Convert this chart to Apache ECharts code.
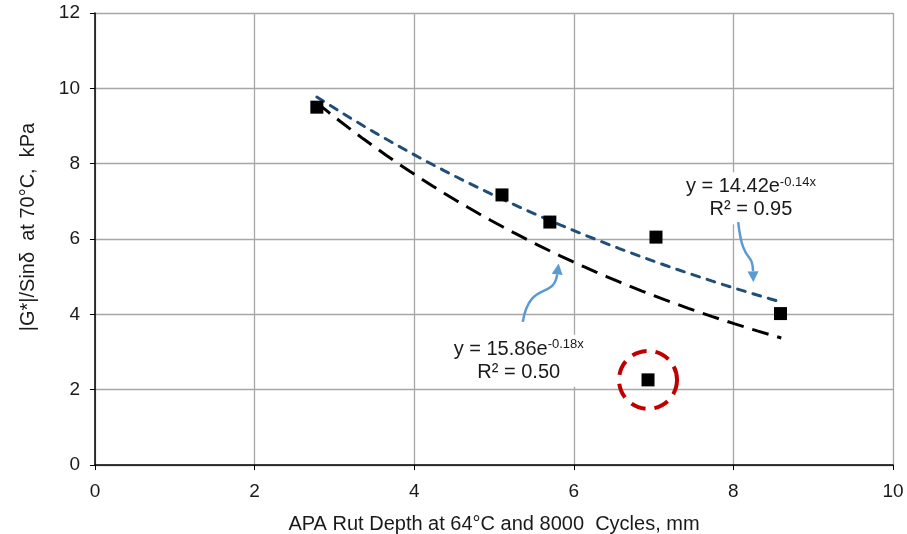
<!DOCTYPE html>
<html>
<head>
<meta charset="utf-8">
<script src="https://cdn.jsdelivr.net/npm/echarts@6/dist/echarts.min.js"></script>
<style>
  html, body { margin: 0; padding: 0; background: #fff; }
  #chart { width: 907px; height: 534px; }
</style>
</head>
<body>
<div id="chart"></div>
<script>
// Measured mixes: APA rut depth (mm) vs |G*|/sinδ at 70°C (kPa)
const rutDepth = [2.78, 5.10, 5.70, 7.03, 8.59, 6.93];
const stiffness = [9.50, 7.17, 6.45, 6.05, 4.02, 2.26];

// Exponential trend lines y = a·e^(b·x), fitted coefficients as printed
const trendNames = ['Excluding outlier', 'All mixes'];
const trendA = [14.42, 15.86];
const trendB = [-0.14, -0.18];
const trendR2 = ['0.95', '0.50'];
const trendRange = [2.78, 8.6];

// Highlighted outlier
const outlier = [6.93, 2.26];

// Axis ticks
const xTicks = [0, 2, 4, 6, 8, 10];
const yTicks = [0, 2, 4, 6, 8, 10, 12];

function trendCurve(i) {
  const pts = [];
  const n = 40;
  for (let k = 0; k <= n; k++) {
    const x = trendRange[0] + (trendRange[1] - trendRange[0]) * k / n;
    pts.push([x, trendA[i] * Math.exp(trendB[i] * x)]);
  }
  return pts;
}

const FONT = 'Liberation Sans, Arial, sans-serif';
const chart = echarts.init(document.getElementById('chart'), null, { renderer: 'canvas' });

const option = {
  animation: false,
  backgroundColor: '#ffffff',
  grid: { left: 95, right: 14, top: 13, bottom: 69, containLabel: false, outerBoundsMode: 'none' },
  xAxis: {
    type: 'value', min: xTicks[0], max: xTicks[xTicks.length - 1], interval: 2,
    name: 'APA Rut Depth at 64°C and 8000  Cycles, mm',
    nameLocation: 'middle', nameGap: 49,
    nameTextStyle: { fontFamily: FONT, fontSize: 20, color: '#1a1a1a' },
    axisLine: { lineStyle: { color: '#000', width: 1.5 } },
    axisTick: { show: true, inside: false, length: 5, lineStyle: { color: '#000' } },
    axisLabel: { fontFamily: FONT, fontSize: 19, color: '#1a1a1a', margin: 17 },
    splitLine: { show: true, lineStyle: { color: '#a6a6a6', width: 1.3 } }
  },
  yAxis: {
    type: 'value', min: yTicks[0], max: yTicks[yTicks.length - 1], interval: 2,
    name: '|G*|/Sinδ  at 70°C,  kPa',
    nameLocation: 'middle', nameGap: 57, nameRotate: 90,
    nameTextStyle: { fontFamily: FONT, fontSize: 20, color: '#1a1a1a', padding: [0, 0, 0, 24] },
    axisLine: { show: true, lineStyle: { color: '#000', width: 1.5 } },
    axisTick: { show: true, inside: false, length: 5, lineStyle: { color: '#000' } },
    axisLabel: { fontFamily: FONT, fontSize: 19, color: '#1a1a1a', margin: 15 },
    splitLine: { show: true, lineStyle: { color: '#a6a6a6', width: 1.3 } }
  },
  series: [
    {
      name: trendNames[0], type: 'line', data: trendCurve(0), showSymbol: false, z: 3,
      lineStyle: { color: '#1f4e79', width: 3, type: [8, 8], cap: 'round' }
    },
    {
      name: trendNames[1], type: 'line', data: trendCurve(1), showSymbol: false, z: 3,
      lineStyle: { color: '#000000', width: 3, type: [17, 9] }
    },
    {
      name: 'Mixes', type: 'scatter', z: 5,
      data: rutDepth.map((x, i) => [x, stiffness[i]]),
      symbol: 'rect', symbolSize: 13,
      itemStyle: { color: '#000000', opacity: 1 }
    },
    {
      name: 'Outlier', type: 'scatter', z: 4,
      data: [outlier],
      symbol: 'circle', symbolSize: 58,
      itemStyle: { color: 'rgba(0,0,0,0)', opacity: 1, borderColor: '#c00000', borderWidth: 4, borderType: [15, 9] }
    }
  ]
};
chart.setOption(option);

// Annotations: equation boxes and curved pointer arrows, anchored in data coordinates
function px(p) { return chart.convertToPixel({ gridIndex: 0 }, p); }

function eqLabel(i, center) {
  const c = px(center);
  const coef = trendA[i].toFixed(2);
  const exp = (trendB[i] < 0 ? '-' : '') + Math.abs(trendB[i]).toFixed(2) + 'x';
  return {
    type: 'text', z: 10,
    x: c[0], y: c[1],
    style: {
      text: '{m|y = ' + coef + 'e}{s|' + exp + '}\n{m|R² = ' + trendR2[i] + '}',
      align: 'center', verticalAlign: 'middle',
      backgroundColor: '#ffffff', padding: [3, 3],
      rich: {
        m: { fontFamily: FONT, fontSize: 20, fill: '#1a1a1a', lineHeight: 23 },
        s: { fontFamily: FONT, fontSize: 13, fill: '#1a1a1a', lineHeight: 23, padding: [0, 0, 9, 0] }
      }
    }
  };
}

function arrow(from, c1, c2, to) {
  const a = px(from), b = px(c1), d = px(c2), e = px(to);
  const ang = Math.atan2(e[1] - d[1], e[0] - d[0]);
  const L = 11, W = 5.5;
  const tip = e;
  const base = [tip[0] - L * Math.cos(ang), tip[1] - L * Math.sin(ang)];
  const left = [base[0] + W * Math.sin(ang), base[1] - W * Math.cos(ang)];
  const right = [base[0] - W * Math.sin(ang), base[1] + W * Math.cos(ang)];
  return [
    {
      type: 'bezierCurve', z: 11,
      shape: { x1: a[0], y1: a[1], cpx1: b[0], cpy1: b[1], cpx2: d[0], cpy2: d[1], x2: base[0], y2: base[1] },
      style: { stroke: '#5b9bd5', lineWidth: 2.5, fill: null }
    },
    {
      type: 'polygon', z: 11,
      shape: { points: [tip, left, right] },
      style: { fill: '#5b9bd5' }
    }
  ];
}

chart.setOption({
  graphic: [
    eqLabel(0, [8.22, 7.08]),
    eqLabel(1, [5.31, 2.77]),
    ...arrow([8.06, 6.45], [8.12, 5.3], [8.24, 5.7], [8.25, 4.85]),
    ...arrow([5.36, 3.8], [5.45, 4.9], [5.75, 4.4], [5.81, 5.35])
  ]
});
</script>
</body>
</html>
